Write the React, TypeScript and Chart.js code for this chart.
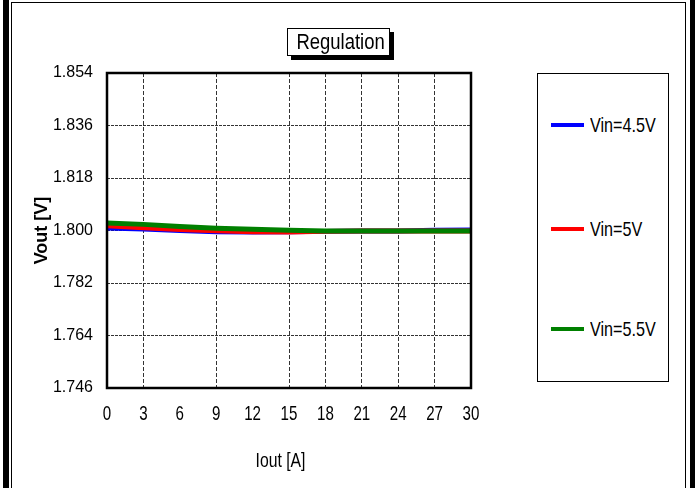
import React, { useEffect, useRef } from "react";
import { Chart, registerables } from "chart.js";

Chart.register(...registerables);

// ---- data ----
const iout = [0, 3, 6, 9, 12, 15, 18, 21, 24, 27, 30];
const vin45 = [1.8009, 1.8005, 1.8, 1.7996, 1.7995, 1.7996, 1.7997, 1.7998, 1.7998, 1.8001, 1.8002];
const vin5 = [1.8016, 1.8009, 1.8003, 1.7999, 1.7996, 1.7995, 1.7997, 1.7998, 1.7998, 1.7998, 1.7998];
const vin55 = [1.8026, 1.8021, 1.8014, 1.8008, 1.8004, 1.8001, 1.7998, 1.7998, 1.7998, 1.7998, 1.7998];
const xTicks = [0, 3, 6, 9, 12, 15, 18, 21, 24, 27, 30];
const xGridLines = [3, 9, 15, 18, 21, 24, 27];
const yTicks = [1.746, 1.764, 1.782, 1.8, 1.818, 1.836, 1.854];
const seriesLabels = ["Vin=4.5V", "Vin=5V", "Vin=5.5V"];
const seriesColors = ["#0000FF", "#FF0000", "#008000"];
const chartTitle = "Regulation";
const xTitle = "Iout [A]";
const yTitle = "Vout [V]";

const REG = "'Liberation Sans', Arial, sans-serif";

const framePlugin = {
  id: "frame",
  afterDatasetsDraw(chart: any) {
    const { ctx, chartArea } = chart;
    ctx.save();
    ctx.strokeStyle = "#000";
    ctx.lineWidth = 2.5;
    ctx.setLineDash([]);
    ctx.strokeRect(chartArea.left, chartArea.top, chartArea.right - chartArea.left, chartArea.bottom - chartArea.top);
    ctx.restore();
  },
  afterDraw(chart: any) {
    const { ctx, chartArea } = chart;
    const xs = chart.scales.x;
    ctx.save();
    ctx.fillStyle = "#000";
    ctx.font = `21px ${REG}`;
    ctx.textAlign = "center";
    ctx.textBaseline = "alphabetic";
    for (const v of xTicks) {
      const px = xs.getPixelForValue(v);
      ctx.save();
      ctx.translate(px, chartArea.bottom + 32);
      ctx.scale(0.72, 1);
      ctx.fillText(String(v), 0, 0);
      ctx.restore();
    }
    ctx.save();
    ctx.translate(xs.getPixelForValue(14.3), chartArea.bottom + 79);
    ctx.scale(0.75, 1);
    ctx.fillText(xTitle, 0, 0);
    ctx.restore();
    ctx.restore();
  },
};

export default function App() {
  const ref = useRef<HTMLCanvasElement | null>(null);

  useEffect(() => {
    if (!ref.current) return;
    const series = [vin45, vin5, vin55];
    const chart = new Chart(ref.current, {
      type: "line",
      data: {
        datasets: series.map((s, i) => ({
          label: seriesLabels[i],
          data: iout.map((x, j) => ({ x, y: s[j] })),
          borderColor: seriesColors[i],
          backgroundColor: seriesColors[i],
          borderWidth: 5,
          pointRadius: 0,
          tension: 0,
          fill: false,
          order: 3 - i,
        })),
      },
      options: {
        responsive: false,
        animation: false,
        devicePixelRatio: 1,
        layout: { padding: { left: 20, top: 73, right: 224, bottom: 18 } },
        plugins: { legend: { display: false }, tooltip: { enabled: false }, title: { display: false } },
        scales: {
          x: {
            type: "linear",
            min: 0,
            max: 30,
            afterBuildTicks: (s: any) => {
              s.ticks = xTicks.map((v) => ({ value: v }));
            },
            afterFit: (s: any) => {
              s.height = 82;
            },
            grid: {
              drawTicks: false,
              lineWidth: 1,
              color: (c: any) => (xGridLines.includes(c.tick?.value) ? "#333" : "rgba(0,0,0,0)"),
            },
            border: { display: false, dash: [4, 2] },
            ticks: { display: false },
            title: { display: false, text: xTitle },
          },
          y: {
            type: "linear",
            min: 1.746,
            max: 1.854,
            afterBuildTicks: (s: any) => {
              s.ticks = yTicks.map((v) => ({ value: v }));
            },
            afterFit: (s: any) => {
              s.width = 87;
            },
            grid: {
              drawTicks: false,
              lineWidth: 1,
              color: "#333",
            },
            border: { display: false, dash: [3, 1] },
            ticks: {
              padding: 14,
              color: "#000",
              autoSkip: false,
              font: { family: REG, size: 16 },
              callback: (v: any) => Number(v).toFixed(3),
            },
            title: {
              display: true,
              text: yTitle,
              color: "#000",
              padding: { top: 13, bottom: 0 },
              font: { family: REG, size: 18, weight: "bold", lineHeight: 1 },
            },
          },
        },
      },
      plugins: [framePlugin],
    } as any);
    return () => chart.destroy();
  }, []);

  return (
    <div
      style={{
        position: "fixed",
        left: 0,
        top: 0,
        width: 695,
        height: 488,
        background: "#fff",
        overflow: "hidden",
      }}
    >
      {/* outer frame */}
      <div style={{ position: "absolute", left: 3, top: 0, width: 6, height: 488, background: "#000" }} />
      <div style={{ position: "absolute", left: 690, top: 0, width: 5, height: 488, background: "#000" }} />
      <div
        style={{
          position: "absolute",
          left: 11,
          top: 2,
          width: 675,
          height: 500,
          border: "1.5px solid #000",
          boxSizing: "border-box",
        }}
      />
      <canvas ref={ref} width={695} height={488} style={{ position: "absolute", left: 0, top: 0 }} />
      {/* title */}
      <div
        style={{
          position: "absolute",
          left: 287,
          top: 28,
          width: 103,
          height: 28,
          border: "1px solid #000",
          boxSizing: "border-box",
          background: "#fff",
          boxShadow: "4px 4px 0 #000",
          fontFamily: REG,
          fontSize: 22,
          lineHeight: "26px",
          textAlign: "center",
          color: "#000",
          whiteSpace: "nowrap",
        }}
      >
        <span style={{ display: "inline-block", transform: "scaleX(0.84)", transformOrigin: "center" }}>{chartTitle}</span>
      </div>
      {/* legend */}
      <div
        style={{
          position: "absolute",
          left: 537,
          top: 73,
          width: 132,
          height: 309,
          border: "1.5px solid #000",
          boxSizing: "border-box",
          background: "#fff",
        }}
      >
        {seriesLabels.map((lab, i) => (
          <div key={lab} style={{ position: "absolute", left: 0, top: [51, 155, 255][i] - 12, height: 24, width: 130 }}>
            <div
              style={{
                position: "absolute",
                left: 13,
                top: 10,
                width: 33,
                height: 4,
                background: seriesColors[i],
              }}
            />
            <div
              style={{
                position: "absolute",
                left: 52,
                top: 0,
                fontFamily: REG,
                fontSize: 21,
                lineHeight: "24px",
                color: "#000",
                whiteSpace: "nowrap",
                transform: "scaleX(0.77)",
                transformOrigin: "left center",
              }}
            >
              {lab}
            </div>
          </div>
        ))}
      </div>
    </div>
  );
}
